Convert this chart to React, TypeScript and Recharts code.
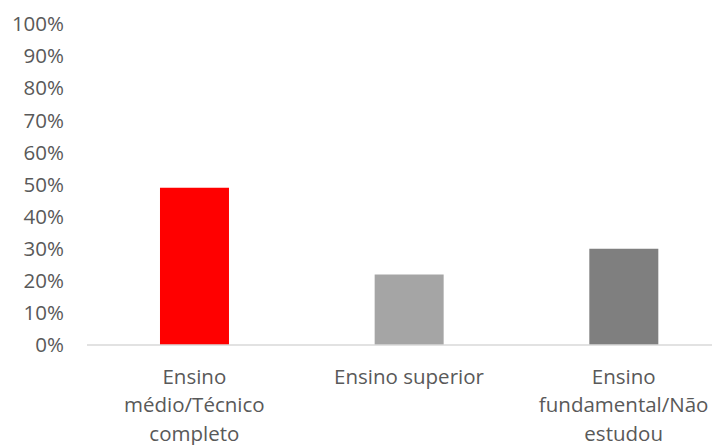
import React from "react";
import { BarChart, Bar, XAxis, YAxis, Cell } from "recharts";

const categories = ["Ensino médio/Técnico completo", "Ensino superior", "Ensino fundamental/Não estudou"];
const categoryLines = [["Ensino", "médio/Técnico", "completo"], ["Ensino superior"], ["Ensino", "fundamental/Não", "estudou"]];
const values = [0.49, 0.22, 0.3];
const colors = ["#FF0000", "#A5A5A5", "#7F7F7F"];
const yTicks = [0, 0.1, 0.2, 0.3, 0.4, 0.5, 0.6, 0.7, 0.8, 0.9, 1];

const data = categories.map((c, i) => ({ name: c, value: values[i], idx: i }));

const FONT = "'Open Sans', sans-serif";

const XTick = (props: any) => {
  const { x, y, index } = props;
  const lines = categoryLines[index] || [];
  return (
    <text x={x} y={y} textAnchor="middle" fill="#595959" fontSize={20.5} fontFamily={FONT}>
      {lines.map((l, i) => (
        <tspan key={i} x={x} dy={i === 0 ? 30.5 : 28.5}>{l}</tspan>
      ))}
    </text>
  );
};

export default function App() {
  return (
    <div style={{ width: 723, height: 437 }}>
      <BarChart width={723} height={437} data={data} margin={{ top: 16, right: 0, bottom: 0, left: 0 }} barCategoryGap="34%">
        <XAxis dataKey="name" interval={0} tickLine={false} axisLine={{ stroke: "#D9D9D9", strokeWidth: 1.5 }} tick={<XTick />} height={100} />
        <YAxis
          width={79}
          domain={[0, 1]}
          ticks={yTicks}
          interval={0}
          axisLine={false}
          tickLine={false}
          tickFormatter={(v: number) => `${Math.round(v * 100)}%`}
          tick={{ fill: "#595959", fontSize: 20.5, fontFamily: FONT, dx: -15 }}
        />
        <Bar dataKey="value" isAnimationActive={false}>
          {data.map((d, i) => (
            <Cell key={i} fill={colors[i]} />
          ))}
        </Bar>
      </BarChart>
    </div>
  );
}
